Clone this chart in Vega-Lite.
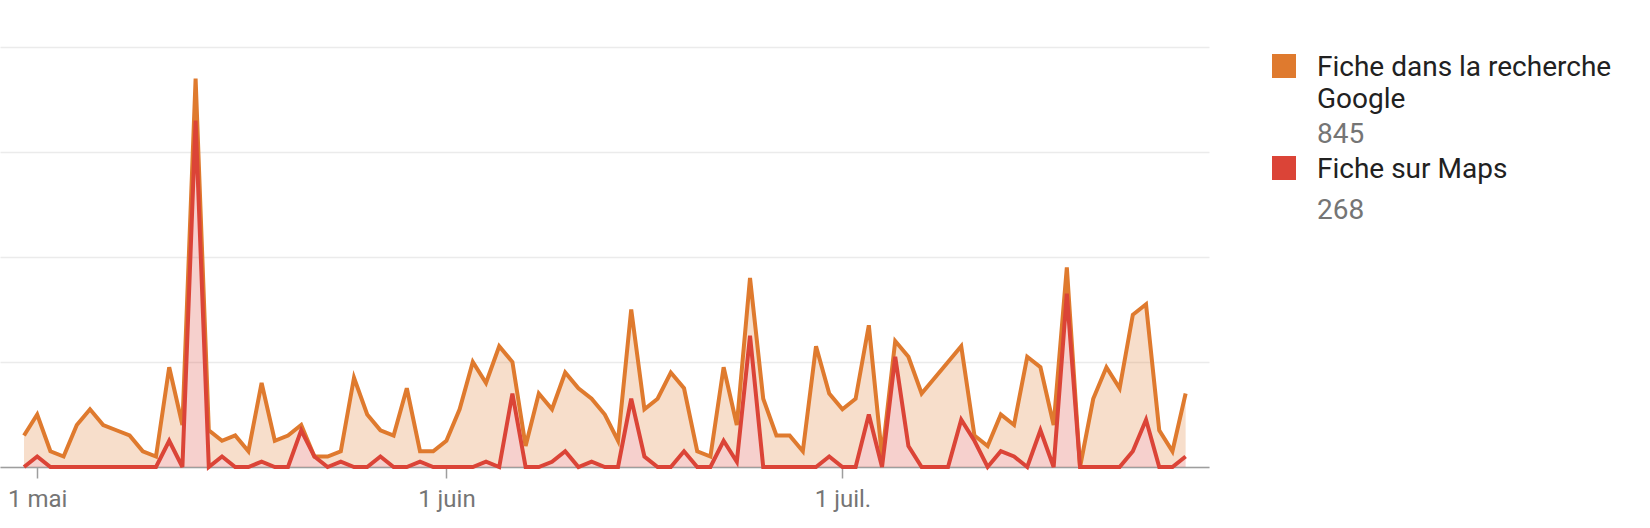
{
  "$schema": "https://vega.github.io/schema/vega-lite/v6.json",
  "width": 1209,
  "height": 420,
  "padding": {"left": 0, "top": 47, "right": 10, "bottom": 5},
  "background": "#ffffff",
  "config": {
    "view": {"stroke": null},
    "font": "Roboto"
  },
  "data": {
    "values": [
      {"date": "2023/04/30", "series": "Fiche dans la recherche Google", "value": 6},
      {"date": "2023/05/01", "series": "Fiche dans la recherche Google", "value": 8},
      {"date": "2023/05/02", "series": "Fiche dans la recherche Google", "value": 3},
      {"date": "2023/05/03", "series": "Fiche dans la recherche Google", "value": 2},
      {"date": "2023/05/04", "series": "Fiche dans la recherche Google", "value": 8},
      {"date": "2023/05/05", "series": "Fiche dans la recherche Google", "value": 11},
      {"date": "2023/05/06", "series": "Fiche dans la recherche Google", "value": 8},
      {"date": "2023/05/07", "series": "Fiche dans la recherche Google", "value": 7},
      {"date": "2023/05/08", "series": "Fiche dans la recherche Google", "value": 6},
      {"date": "2023/05/09", "series": "Fiche dans la recherche Google", "value": 3},
      {"date": "2023/05/10", "series": "Fiche dans la recherche Google", "value": 2},
      {"date": "2023/05/11", "series": "Fiche dans la recherche Google", "value": 14},
      {"date": "2023/05/12", "series": "Fiche dans la recherche Google", "value": 8},
      {"date": "2023/05/13", "series": "Fiche dans la recherche Google", "value": 8},
      {"date": "2023/05/14", "series": "Fiche dans la recherche Google", "value": 7},
      {"date": "2023/05/15", "series": "Fiche dans la recherche Google", "value": 3},
      {"date": "2023/05/16", "series": "Fiche dans la recherche Google", "value": 6},
      {"date": "2023/05/17", "series": "Fiche dans la recherche Google", "value": 3},
      {"date": "2023/05/18", "series": "Fiche dans la recherche Google", "value": 15},
      {"date": "2023/05/19", "series": "Fiche dans la recherche Google", "value": 5},
      {"date": "2023/05/20", "series": "Fiche dans la recherche Google", "value": 6},
      {"date": "2023/05/21", "series": "Fiche dans la recherche Google", "value": 1},
      {"date": "2023/05/22", "series": "Fiche dans la recherche Google", "value": 0},
      {"date": "2023/05/23", "series": "Fiche dans la recherche Google", "value": 2},
      {"date": "2023/05/24", "series": "Fiche dans la recherche Google", "value": 2},
      {"date": "2023/05/25", "series": "Fiche dans la recherche Google", "value": 17},
      {"date": "2023/05/26", "series": "Fiche dans la recherche Google", "value": 10},
      {"date": "2023/05/27", "series": "Fiche dans la recherche Google", "value": 5},
      {"date": "2023/05/28", "series": "Fiche dans la recherche Google", "value": 6},
      {"date": "2023/05/29", "series": "Fiche dans la recherche Google", "value": 15},
      {"date": "2023/05/30", "series": "Fiche dans la recherche Google", "value": 2},
      {"date": "2023/05/31", "series": "Fiche dans la recherche Google", "value": 3},
      {"date": "2023/06/01", "series": "Fiche dans la recherche Google", "value": 5},
      {"date": "2023/06/02", "series": "Fiche dans la recherche Google", "value": 11},
      {"date": "2023/06/03", "series": "Fiche dans la recherche Google", "value": 20},
      {"date": "2023/06/04", "series": "Fiche dans la recherche Google", "value": 15},
      {"date": "2023/06/05", "series": "Fiche dans la recherche Google", "value": 23},
      {"date": "2023/06/06", "series": "Fiche dans la recherche Google", "value": 6},
      {"date": "2023/06/07", "series": "Fiche dans la recherche Google", "value": 4},
      {"date": "2023/06/08", "series": "Fiche dans la recherche Google", "value": 14},
      {"date": "2023/06/09", "series": "Fiche dans la recherche Google", "value": 10},
      {"date": "2023/06/10", "series": "Fiche dans la recherche Google", "value": 15},
      {"date": "2023/06/11", "series": "Fiche dans la recherche Google", "value": 15},
      {"date": "2023/06/12", "series": "Fiche dans la recherche Google", "value": 12},
      {"date": "2023/06/13", "series": "Fiche dans la recherche Google", "value": 10},
      {"date": "2023/06/14", "series": "Fiche dans la recherche Google", "value": 5},
      {"date": "2023/06/15", "series": "Fiche dans la recherche Google", "value": 17},
      {"date": "2023/06/16", "series": "Fiche dans la recherche Google", "value": 9},
      {"date": "2023/06/17", "series": "Fiche dans la recherche Google", "value": 13},
      {"date": "2023/06/18", "series": "Fiche dans la recherche Google", "value": 18},
      {"date": "2023/06/19", "series": "Fiche dans la recherche Google", "value": 12},
      {"date": "2023/06/20", "series": "Fiche dans la recherche Google", "value": 3},
      {"date": "2023/06/21", "series": "Fiche dans la recherche Google", "value": 2},
      {"date": "2023/06/22", "series": "Fiche dans la recherche Google", "value": 14},
      {"date": "2023/06/23", "series": "Fiche dans la recherche Google", "value": 7},
      {"date": "2023/06/24", "series": "Fiche dans la recherche Google", "value": 11},
      {"date": "2023/06/25", "series": "Fiche dans la recherche Google", "value": 13},
      {"date": "2023/06/26", "series": "Fiche dans la recherche Google", "value": 6},
      {"date": "2023/06/27", "series": "Fiche dans la recherche Google", "value": 6},
      {"date": "2023/06/28", "series": "Fiche dans la recherche Google", "value": 3},
      {"date": "2023/06/29", "series": "Fiche dans la recherche Google", "value": 23},
      {"date": "2023/06/30", "series": "Fiche dans la recherche Google", "value": 12},
      {"date": "2023/07/01", "series": "Fiche dans la recherche Google", "value": 11},
      {"date": "2023/07/02", "series": "Fiche dans la recherche Google", "value": 13},
      {"date": "2023/07/03", "series": "Fiche dans la recherche Google", "value": 17},
      {"date": "2023/07/04", "series": "Fiche dans la recherche Google", "value": 2},
      {"date": "2023/07/05", "series": "Fiche dans la recherche Google", "value": 3},
      {"date": "2023/07/06", "series": "Fiche dans la recherche Google", "value": 17},
      {"date": "2023/07/07", "series": "Fiche dans la recherche Google", "value": 14},
      {"date": "2023/07/08", "series": "Fiche dans la recherche Google", "value": 17},
      {"date": "2023/07/09", "series": "Fiche dans la recherche Google", "value": 20},
      {"date": "2023/07/10", "series": "Fiche dans la recherche Google", "value": 14},
      {"date": "2023/07/11", "series": "Fiche dans la recherche Google", "value": 1},
      {"date": "2023/07/12", "series": "Fiche dans la recherche Google", "value": 4},
      {"date": "2023/07/13", "series": "Fiche dans la recherche Google", "value": 7},
      {"date": "2023/07/14", "series": "Fiche dans la recherche Google", "value": 6},
      {"date": "2023/07/15", "series": "Fiche dans la recherche Google", "value": 21},
      {"date": "2023/07/16", "series": "Fiche dans la recherche Google", "value": 12},
      {"date": "2023/07/17", "series": "Fiche dans la recherche Google", "value": 8},
      {"date": "2023/07/18", "series": "Fiche dans la recherche Google", "value": 5},
      {"date": "2023/07/19", "series": "Fiche dans la recherche Google", "value": 0},
      {"date": "2023/07/20", "series": "Fiche dans la recherche Google", "value": 13},
      {"date": "2023/07/21", "series": "Fiche dans la recherche Google", "value": 19},
      {"date": "2023/07/22", "series": "Fiche dans la recherche Google", "value": 15},
      {"date": "2023/07/23", "series": "Fiche dans la recherche Google", "value": 26},
      {"date": "2023/07/24", "series": "Fiche dans la recherche Google", "value": 22},
      {"date": "2023/07/25", "series": "Fiche dans la recherche Google", "value": 7},
      {"date": "2023/07/26", "series": "Fiche dans la recherche Google", "value": 3},
      {"date": "2023/07/27", "series": "Fiche dans la recherche Google", "value": 12},
      {"date": "2023/04/30", "series": "Fiche sur Maps", "value": 0},
      {"date": "2023/05/01", "series": "Fiche sur Maps", "value": 2},
      {"date": "2023/05/02", "series": "Fiche sur Maps", "value": 0},
      {"date": "2023/05/03", "series": "Fiche sur Maps", "value": 0},
      {"date": "2023/05/04", "series": "Fiche sur Maps", "value": 0},
      {"date": "2023/05/05", "series": "Fiche sur Maps", "value": 0},
      {"date": "2023/05/06", "series": "Fiche sur Maps", "value": 0},
      {"date": "2023/05/07", "series": "Fiche sur Maps", "value": 0},
      {"date": "2023/05/08", "series": "Fiche sur Maps", "value": 0},
      {"date": "2023/05/09", "series": "Fiche sur Maps", "value": 0},
      {"date": "2023/05/10", "series": "Fiche sur Maps", "value": 0},
      {"date": "2023/05/11", "series": "Fiche sur Maps", "value": 5},
      {"date": "2023/05/12", "series": "Fiche sur Maps", "value": 0},
      {"date": "2023/05/13", "series": "Fiche sur Maps", "value": 66},
      {"date": "2023/05/14", "series": "Fiche sur Maps", "value": 0},
      {"date": "2023/05/15", "series": "Fiche sur Maps", "value": 2},
      {"date": "2023/05/16", "series": "Fiche sur Maps", "value": 0},
      {"date": "2023/05/17", "series": "Fiche sur Maps", "value": 0},
      {"date": "2023/05/18", "series": "Fiche sur Maps", "value": 1},
      {"date": "2023/05/19", "series": "Fiche sur Maps", "value": 0},
      {"date": "2023/05/20", "series": "Fiche sur Maps", "value": 0},
      {"date": "2023/05/21", "series": "Fiche sur Maps", "value": 7},
      {"date": "2023/05/22", "series": "Fiche sur Maps", "value": 2},
      {"date": "2023/05/23", "series": "Fiche sur Maps", "value": 0},
      {"date": "2023/05/24", "series": "Fiche sur Maps", "value": 1},
      {"date": "2023/05/25", "series": "Fiche sur Maps", "value": 0},
      {"date": "2023/05/26", "series": "Fiche sur Maps", "value": 0},
      {"date": "2023/05/27", "series": "Fiche sur Maps", "value": 2},
      {"date": "2023/05/28", "series": "Fiche sur Maps", "value": 0},
      {"date": "2023/05/29", "series": "Fiche sur Maps", "value": 0},
      {"date": "2023/05/30", "series": "Fiche sur Maps", "value": 1},
      {"date": "2023/05/31", "series": "Fiche sur Maps", "value": 0},
      {"date": "2023/06/01", "series": "Fiche sur Maps", "value": 0},
      {"date": "2023/06/02", "series": "Fiche sur Maps", "value": 0},
      {"date": "2023/06/03", "series": "Fiche sur Maps", "value": 0},
      {"date": "2023/06/04", "series": "Fiche sur Maps", "value": 1},
      {"date": "2023/06/05", "series": "Fiche sur Maps", "value": 0},
      {"date": "2023/06/06", "series": "Fiche sur Maps", "value": 14},
      {"date": "2023/06/07", "series": "Fiche sur Maps", "value": 0},
      {"date": "2023/06/08", "series": "Fiche sur Maps", "value": 0},
      {"date": "2023/06/09", "series": "Fiche sur Maps", "value": 1},
      {"date": "2023/06/10", "series": "Fiche sur Maps", "value": 3},
      {"date": "2023/06/11", "series": "Fiche sur Maps", "value": 0},
      {"date": "2023/06/12", "series": "Fiche sur Maps", "value": 1},
      {"date": "2023/06/13", "series": "Fiche sur Maps", "value": 0},
      {"date": "2023/06/14", "series": "Fiche sur Maps", "value": 0},
      {"date": "2023/06/15", "series": "Fiche sur Maps", "value": 13},
      {"date": "2023/06/16", "series": "Fiche sur Maps", "value": 2},
      {"date": "2023/06/17", "series": "Fiche sur Maps", "value": 0},
      {"date": "2023/06/18", "series": "Fiche sur Maps", "value": 0},
      {"date": "2023/06/19", "series": "Fiche sur Maps", "value": 3},
      {"date": "2023/06/20", "series": "Fiche sur Maps", "value": 0},
      {"date": "2023/06/21", "series": "Fiche sur Maps", "value": 0},
      {"date": "2023/06/22", "series": "Fiche sur Maps", "value": 5},
      {"date": "2023/06/23", "series": "Fiche sur Maps", "value": 1},
      {"date": "2023/06/24", "series": "Fiche sur Maps", "value": 25},
      {"date": "2023/06/25", "series": "Fiche sur Maps", "value": 0},
      {"date": "2023/06/26", "series": "Fiche sur Maps", "value": 0},
      {"date": "2023/06/27", "series": "Fiche sur Maps", "value": 0},
      {"date": "2023/06/28", "series": "Fiche sur Maps", "value": 0},
      {"date": "2023/06/29", "series": "Fiche sur Maps", "value": 0},
      {"date": "2023/06/30", "series": "Fiche sur Maps", "value": 2},
      {"date": "2023/07/01", "series": "Fiche sur Maps", "value": 0},
      {"date": "2023/07/02", "series": "Fiche sur Maps", "value": 0},
      {"date": "2023/07/03", "series": "Fiche sur Maps", "value": 10},
      {"date": "2023/07/04", "series": "Fiche sur Maps", "value": 0},
      {"date": "2023/07/05", "series": "Fiche sur Maps", "value": 21},
      {"date": "2023/07/06", "series": "Fiche sur Maps", "value": 4},
      {"date": "2023/07/07", "series": "Fiche sur Maps", "value": 0},
      {"date": "2023/07/08", "series": "Fiche sur Maps", "value": 0},
      {"date": "2023/07/09", "series": "Fiche sur Maps", "value": 0},
      {"date": "2023/07/10", "series": "Fiche sur Maps", "value": 9},
      {"date": "2023/07/11", "series": "Fiche sur Maps", "value": 5},
      {"date": "2023/07/12", "series": "Fiche sur Maps", "value": 0},
      {"date": "2023/07/13", "series": "Fiche sur Maps", "value": 3},
      {"date": "2023/07/14", "series": "Fiche sur Maps", "value": 2},
      {"date": "2023/07/15", "series": "Fiche sur Maps", "value": 0},
      {"date": "2023/07/16", "series": "Fiche sur Maps", "value": 7},
      {"date": "2023/07/17", "series": "Fiche sur Maps", "value": 0},
      {"date": "2023/07/18", "series": "Fiche sur Maps", "value": 33},
      {"date": "2023/07/19", "series": "Fiche sur Maps", "value": 0},
      {"date": "2023/07/20", "series": "Fiche sur Maps", "value": 0},
      {"date": "2023/07/21", "series": "Fiche sur Maps", "value": 0},
      {"date": "2023/07/22", "series": "Fiche sur Maps", "value": 0},
      {"date": "2023/07/23", "series": "Fiche sur Maps", "value": 3},
      {"date": "2023/07/24", "series": "Fiche sur Maps", "value": 9},
      {"date": "2023/07/25", "series": "Fiche sur Maps", "value": 0},
      {"date": "2023/07/26", "series": "Fiche sur Maps", "value": 0},
      {"date": "2023/07/27", "series": "Fiche sur Maps", "value": 2}
    ]
  },
  "encoding": {
    "x": {
      "field": "date",
      "type": "temporal",
      "scale": {
        "domain": [
          {"year": 2023, "month": 4, "date": 28, "hours": 4, "minutes": 22},
          {"year": 2023, "month": 7, "date": 28, "hours": 18, "minutes": 29}
        ]
      },
      "axis": {
        "title": null,
        "grid": false,
        "values": [
          {"year": 2023, "month": 5, "date": 1},
          {"year": 2023, "month": 6, "date": 1},
          {"year": 2023, "month": 7, "date": 1}
        ],
        "labelExpr": "date(datum.value) + ' ' + ['janv.', 'févr.', 'mars', 'avr.', 'mai', 'juin', 'juil.', 'août', 'sept.', 'oct.', 'nov.', 'déc.'][month(datum.value)]",
        "labelFlush": false,
        "labelFont": "Roboto",
        "labelFontSize": 24,
        "labelColor": "#757575",
        "labelPadding": 9,
        "domainColor": "#9E9E9E",
        "domainWidth": 1.5,
        "tickColor": "#9E9E9E",
        "tickWidth": 1.5,
        "tickSize": 11
      }
    },
    "y": {
      "field": "value",
      "type": "quantitative",
      "stack": "zero",
      "scale": {"domain": [0, 80], "nice": false},
      "axis": {
        "title": null,
        "values": [0, 20, 40, 60, 80],
        "grid": true,
        "gridColor": "#EBEBEB",
        "gridWidth": 1.5,
        "labels": false,
        "ticks": false,
        "domain": false
      }
    }
  },
  "layer": [
    {
      "mark": {"type": "area", "fillOpacity": 0.25, "strokeWidth": 0},
      "encoding": {
        "color": {
          "field": "series",
          "type": "nominal",
          "scale": {
            "domain": ["Fiche dans la recherche Google", "845", "Fiche sur Maps", "268"],
            "range": ["#DF7A2E", "#ffffff", "#DB4437", "#ffffff"]
          },
          "legend": {
            "title": null,
            "orient": "right",
            "offset": 56,
            "padding": 5,
            "values": ["Fiche dans la recherche Google", "845", "Fiche sur Maps", "268"],
            "symbolType": "square",
            "symbolSize": 576,
            "symbolStrokeWidth": 0,
            "labelFont": "Roboto",
            "labelFontSize": 28,
            "labelLimit": 500,
            "labelOffset": 19,
            "labelBaseline": "top",
            "rowPadding": 5,
            "labelExpr": "datum.label == 'Fiche dans la recherche Google' ? ['Fiche dans la recherche', 'Google'] : datum.label",
            "encode": {
              "labels": {
                "update": {
                  "fill": {"signal": "indexof(['845', '268'], datum.label) >= 0 ? '#757575' : '#212121'"},
                  "dy": {"signal": "datum.label == '268' ? -6 : -12"},
                  "lineHeight": {"value": 32}
                }
              },
              "symbols": {
                "update": {
                  "opacity": {"signal": "indexof(['845', '268'], datum.label) >= 0 ? 0 : 1"},
                  "fillOpacity": {"value": 1}
                }
              }
            }
          }
        }
      }
    },
    {
      "mark": {"type": "line", "strokeWidth": 4, "strokeJoin": "miter"},
      "encoding": {
        "color": {"field": "series", "type": "nominal", "legend": null}
      }
    }
  ]
}
